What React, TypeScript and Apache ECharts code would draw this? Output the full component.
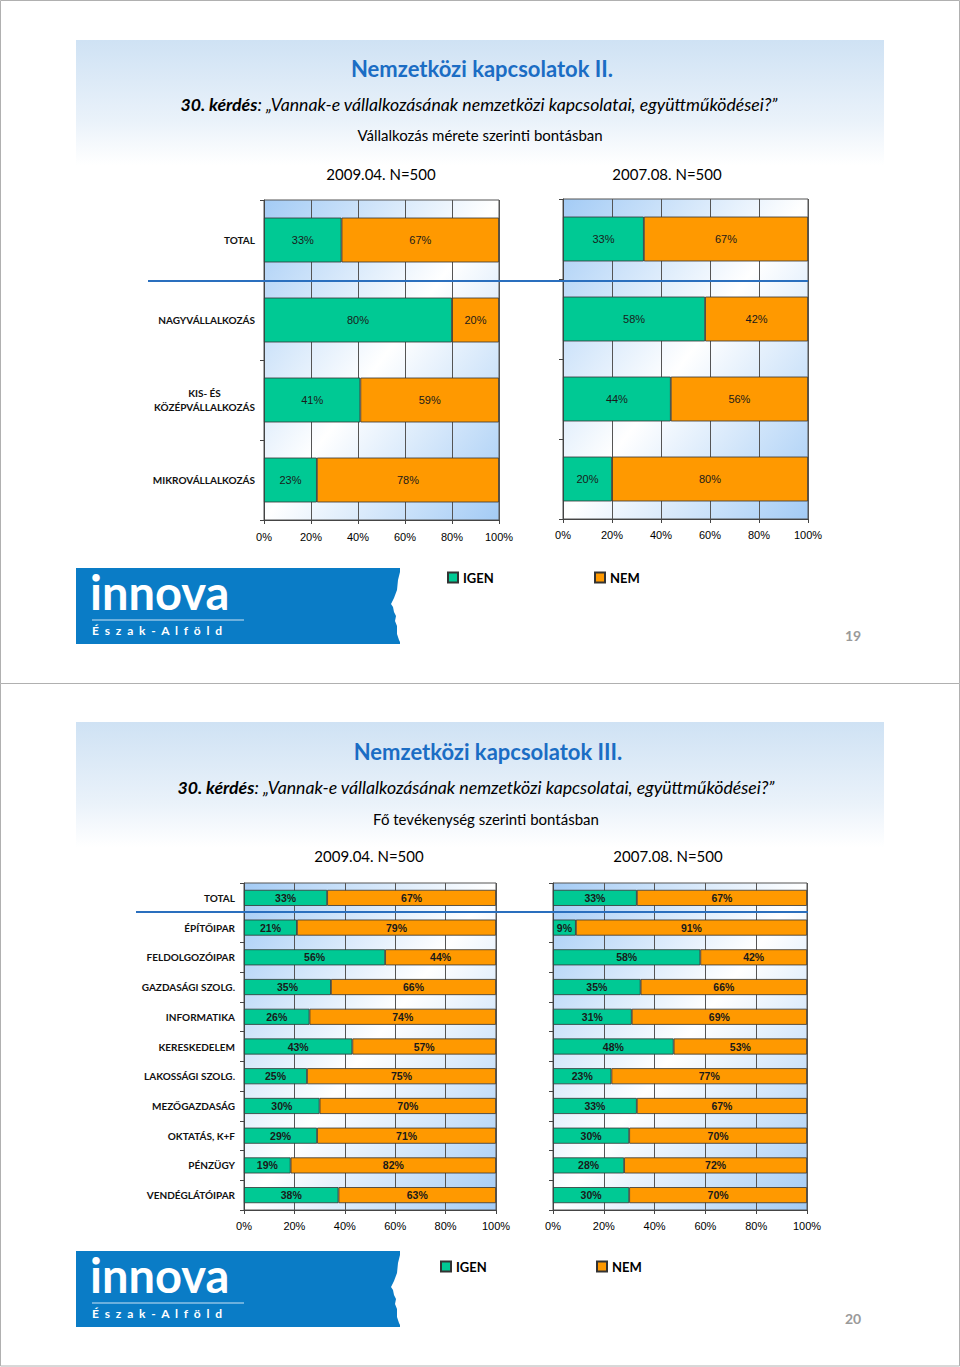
import React, { useEffect, useRef } from "react";
import * as echarts from "echarts";

const sizeCategories = ["TOTAL", "NAGYVÁLLALKOZÁS", "KIS- ÉS\nKÖZÉPVÁLLALKOZÁS", "MIKROVÁLLALKOZÁS"];
const sizeIgen2009 = [33, 80, 41, 22.5];
const sizeNem2009 = [67, 20, 59, 77.5];
const sizeIgen2007 = [33, 58, 44, 20];
const sizeNem2007 = [67, 42, 56, 80];

const actCategories = [
  "TOTAL", "ÉPÍTŐIPAR", "FELDOLGOZÓIPAR", "GAZDASÁGI SZOLG.", "INFORMATIKA", "KERESKEDELEM",
  "LAKOSSÁGI SZOLG.", "MEZŐGAZDASÁG", "OKTATÁS, K+F", "PÉNZÜGY", "VENDÉGLÁTÓIPAR",
];
const actIgen2009 = [33, 21, 56, 34.5, 26, 43, 25, 30, 29, 18.5, 37.5];
const actNem2009 = [67, 79, 44, 65.5, 74, 57, 75, 70, 71, 81.5, 62.5];
const actIgen2007 = [33, 9, 58, 34.5, 31, 47.5, 23, 33, 30, 28, 30];
const actNem2007 = [67, 91, 42, 65.5, 69, 52.5, 77, 67, 70, 72, 70];

const seriesNames = ["IGEN", "NEM"];
const xTicks = [0, 20, 40, 60, 80, 100];

const GREEN = "#00c994";
const ORANGE = "#ff9900";
const TITLE_BLUE = "#1b6dc4";
const LINE_BLUE = "#2a6fbe";

const bgGrad = {
  type: "linear", x: 0, y: 0, x2: 1, y2: 1,
  colorStops: [
    { offset: 0, color: "#a3cbf5" },
    { offset: 0.5, color: "#ffffff" },
    { offset: 1, color: "#a3cbf5" },
  ],
};

const headerGrad = {
  type: "linear", x: 0, y: 0, x2: 0, y2: 1,
  colorStops: [
    { offset: 0, color: "#cfe2f4" },
    { offset: 0.65, color: "#eaf2fa" },
    { offset: 1, color: "#ffffff" },
  ],
};

function App() {
  const ref = useRef<HTMLDivElement>(null);
  useEffect(() => {
    if (!ref.current) return;
    const chart = echarts.init(ref.current, undefined, { renderer: "svg" });

    const grids = [
      { left: 264, top: 200, width: 235, height: 320 },
      { left: 563, top: 199, width: 245, height: 320 },
      { left: 244, top: 883, width: 252, height: 327 },
      { left: 553, top: 883, width: 254, height: 327 },
    ].map((g) => ({ ...g, show: true, backgroundColor: bgGrad, borderColor: "#555", borderWidth: 1, containLabel: false }));

    const xAxes = grids.map((_, i) => ({
      type: "value",
      gridIndex: i,
      min: xTicks[0],
      max: xTicks[xTicks.length - 1],
      interval: 20,
      axisLine: { show: true, lineStyle: { color: "#444", width: 1 } },
      axisTick: { show: true, length: 4, lineStyle: { color: "#444" } },
      splitLine: { show: true, lineStyle: { color: "#555", width: 1 } },
      axisLabel: {
        formatter: "{value}%",
        margin: i === 0 ? 11 : 10,
        color: "#000",
        fontFamily: "Liberation Sans",
        fontSize: 11,
      },
    }));

    const catLabel = (show: boolean) => ({
      show,
      margin: 9,
      color: "#111",
      formatter: (v: string) => v.split("\n").map((s) => "{c|" + s + "}").join("\n"),
      rich: {
        c: { align: "center", fontFamily: "Lato", fontWeight: "bold", fontSize: 10, color: "#111", lineHeight: 14 },
      },
    });

    const yAxes = grids.map((_, i) => ({
      type: "category",
      gridIndex: i,
      inverse: true,
      data: i < 2 ? sizeCategories : actCategories,
      axisLine: { show: true, lineStyle: { color: "#444", width: 1 } },
      axisTick: { show: true, length: 4, lineStyle: { color: "#444" } },
      axisLabel: catLabel(i === 0 || i === 2),
      splitLine: { show: false },
    }));

    const dataSets = [
      [sizeIgen2009, sizeNem2009],
      [sizeIgen2007, sizeNem2007],
      [actIgen2009, actNem2009],
      [actIgen2007, actNem2007],
    ];

    const series: any[] = [];
    dataSets.forEach((pair, gi) => {
      pair.forEach((vals, si) => {
        series.push({
          type: "bar",
          name: seriesNames[si],
          xAxisIndex: gi,
          yAxisIndex: gi,
          stack: "s" + gi,
          data: vals,
          barCategoryGap: gi < 2 ? "44%" : "46%",
          itemStyle: { color: si === 0 ? GREEN : ORANGE, borderColor: "#333", borderWidth: 0.8 },
          label: {
            show: true,
            position: "inside",
            formatter: (p: any) => Math.round(p.value) + "%",
            color: "#1a1a1a",
            fontFamily: "Liberation Sans",
            fontSize: gi < 2 ? 11 : 10.5,
            fontWeight: gi < 2 ? "normal" : "bold",
          },
        });
      });
    });

    const legendCommon = {
      orient: "horizontal",
      icon: "rect",
      itemWidth: 10,
      itemHeight: 10,
      itemGap: 6,
      textStyle: { fontFamily: "Lato", fontWeight: "bold", fontSize: 13, color: "#000" },
    };
    const legends = [
      { ...legendCommon, left: 442, top: 566, data: ["IGEN"] },
      { ...legendCommon, left: 589, top: 566, data: ["NEM"] },
      { ...legendCommon, left: 435, top: 1255, data: ["IGEN"] },
      { ...legendCommon, left: 591, top: 1255, data: ["NEM"] },
    ];

    const txt = (x: number, y: number, text: string, size: number, extra: any = {}) => ({
      type: "text",
      x,
      y,
      silent: true,
      style: {
        text,
        fontFamily: "Lato",
        fontSize: size,
        fill: "#000",
        textAlign: "center",
        textVerticalAlign: "middle",
        ...extra,
      },
    });

    const question = (x: number, y: number) => ({
      type: "text",
      x,
      y,
      silent: true,
      style: {
        text: "{b|30. kérdés}{i|: „Vannak-e vállalkozásának nemzetközi kapcsolatai, együttműködései?”}",
        textAlign: "center",
        textVerticalAlign: "middle",
        rich: {
          b: { fontFamily: "Lato", fontSize: 17.7, fontWeight: "bold", fontStyle: "italic", fill: "#000", color: "#000" },
          i: { fontFamily: "Lato", fontSize: 17.7, fontStyle: "italic", fill: "#000", color: "#000" },
        },
      },
    });

    const logo = (top: number) => [
      { type: "rect", silent: true, shape: { x: 76, y: top, width: 324, height: 76 }, style: { fill: "#0a7cc6" } },
      {
        type: "polygon",
        silent: true,
        shape: {
          points: [
            [401, top], [400, top + 4], [398, top + 12], [397, top + 22], [394, top + 30], [391, top + 36],
            [393, top + 39], [394, top + 44], [396, top + 48], [395, top + 53], [397, top + 58], [397, top + 66],
            [399, top + 72], [401, top + 76],
          ],
        },
        style: { fill: "#ffffff" },
      },
      {
        type: "text", silent: true, x: 90, y: top + 47,
        style: { text: "innova", fontFamily: "Lato", fontWeight: "bold", fontSize: 47, fill: "#ffffff", textAlign: "left", textVerticalAlign: "bottom" },
      },
      { type: "line", silent: true, shape: { x1: 92, y1: top + 52, x2: 244, y2: top + 52 }, style: { stroke: "#ffffff", lineWidth: 1, opacity: 0.8 } },
      {
        type: "text", silent: true, x: 92, y: top + 62,
        style: { text: "É  s  z  a  k  -  A  l  f  ö  l  d", fontFamily: "Lato", fontWeight: "bold", fontSize: 12, fill: "#ffffff", textAlign: "left", textVerticalAlign: "middle" },
      },
    ];

    const elements: any[] = [
      { type: "rect", silent: true, shape: { x: 0.5, y: 0.5, width: 959, height: 683 }, style: { fill: "#ffffff", stroke: "#b0b0b0", lineWidth: 1 }, z: -10 },
      { type: "rect", silent: true, shape: { x: 0.5, y: 683.5, width: 959, height: 682.5 }, style: { fill: "#ffffff", stroke: "#b0b0b0", lineWidth: 1 }, z: -10 },
      { type: "rect", silent: true, shape: { x: 76, y: 40, width: 808, height: 125 }, style: { fill: headerGrad }, z: -5 },
      { type: "rect", silent: true, shape: { x: 76, y: 722, width: 808, height: 125 }, style: { fill: headerGrad }, z: -5 },
      txt(482, 68, "Nemzetközi kapcsolatok II.", 22, { fill: TITLE_BLUE, fontWeight: "bold" }),
      question(479, 104),
      txt(480, 135, "Vállalkozás mérete szerinti bontásban", 15),
      txt(381, 174, "2009.04. N=500", 15),
      txt(667, 174, "2007.08. N=500", 15),
      txt(853, 635, "19", 14, { fill: "#9a9a9a", fontWeight: "bold" }),
      txt(488, 751, "Nemzetközi kapcsolatok III.", 22, { fill: TITLE_BLUE, fontWeight: "bold" }),
      question(476, 787),
      txt(486, 819, "Fő tevékenység szerinti bontásban", 15),
      txt(369, 856, "2009.04. N=500", 15),
      txt(668, 856, "2007.08. N=500", 15),
      txt(853, 1318, "20", 14, { fill: "#9a9a9a", fontWeight: "bold" }),
      { type: "line", silent: true, z: 100, shape: { x1: 148, y1: 281, x2: 808, y2: 281 }, style: { stroke: LINE_BLUE, lineWidth: 2 } },
      { type: "line", silent: true, z: 100, shape: { x1: 136, y1: 912, x2: 808, y2: 912 }, style: { stroke: LINE_BLUE, lineWidth: 2 } },
      ...logo(568),
      ...logo(1251),
    ];

    chart.setOption({
      animation: false,
      backgroundColor: "#ffffff",
      grid: grids,
      xAxis: xAxes,
      yAxis: yAxes,
      series,
      legend: legends,
      graphic: { elements },
    });
    return () => chart.dispose();
  }, []);
  return <div ref={ref} style={{ position: "absolute", left: 0, top: 0, width: 960, height: 1367 }} />;
}

export default App;
